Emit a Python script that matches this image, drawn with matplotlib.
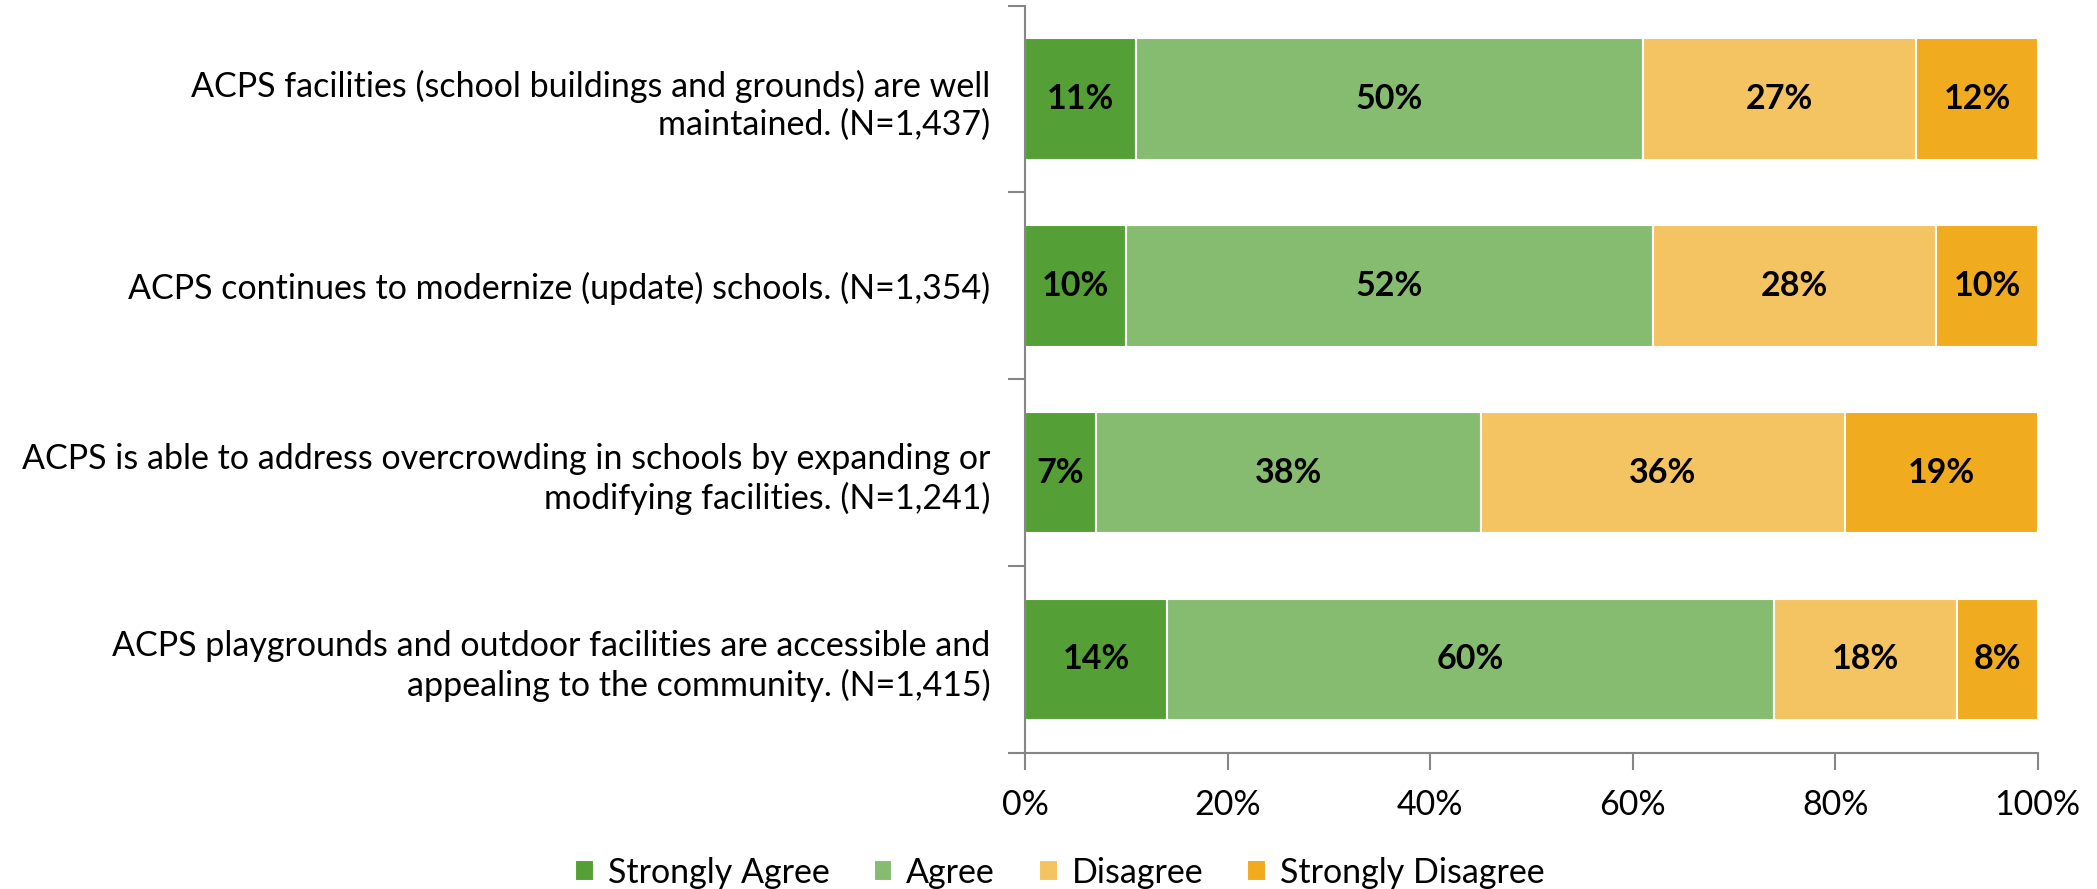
import matplotlib.pyplot as plt
import numpy as np

plt.rcParams['font.family'] = ['Lato', 'DejaVu Sans']

questions = [
    "ACPS facilities (school buildings and grounds) are well\nmaintained. (N=1,437)",
    "ACPS continues to modernize (update) schools. (N=1,354)",
    "ACPS is able to address overcrowding in schools by expanding or\nmodifying facilities. (N=1,241)",
    "ACPS playgrounds and outdoor facilities are accessible and\nappealing to the community. (N=1,415)",
]
strongly_agree = [11, 10, 7, 14]
agree = [50, 52, 38, 60]
disagree = [27, 28, 36, 18]
strongly_disagree = [12, 10, 19, 8]

series = ["Strongly Agree", "Agree", "Disagree", "Strongly Disagree"]
colors = ["#559F37", "#86BC70", "#F5C462", "#F0AB1E"]
xticks = [0, 20, 40, 60, 80, 100]

fs = 24.5

fig = plt.figure(figsize=(20.97, 8.89), dpi=100)
ax = fig.add_axes([0.4888, 0.1533, 0.4829, 0.8403])

y = np.arange(len(questions))
left = np.zeros(len(questions))
for name, vals, col in zip(series, [strongly_agree, agree, disagree, strongly_disagree], colors):
    vals = np.array(vals, dtype=float)
    bars = ax.barh(y, vals, left=left, height=0.65, color=col, edgecolor='white',
                   linewidth=1.5, label=name)
    for b, v in zip(bars, vals):
        ax.text(b.get_x() + b.get_width() / 2, b.get_y() + b.get_height() / 2,
                f"{int(v)}%", ha='center', va='center', fontsize=fs, fontweight='bold')
    left += vals

ax.set_ylim(len(questions) - 0.5, -0.5)
ax.set_xlim(0, 100)
ax.set_yticks(y)
ax.set_yticklabels(questions, fontsize=fs, ha='right', linespacing=1.25)
ax.tick_params(axis='y', length=0, pad=25)
ax.set_yticks(np.arange(-0.5, len(questions)), minor=True)
ax.tick_params(axis='y', which='minor', length=12, width=1.5, color='#868686')
ax.set_xticks(xticks)
ax.set_xticklabels([f"{t}%" for t in xticks], fontsize=fs)
ax.tick_params(axis='x', length=12, width=1.5, color='#868686', pad=14)

for s in ['top', 'right']:
    ax.spines[s].set_visible(False)
for s in ['left', 'bottom']:
    ax.spines[s].set_color('#868686')
    ax.spines[s].set_linewidth(1.5)

fig.legend(loc='lower center', bbox_to_anchor=(0.5054, -0.034), ncol=4, frameon=False,
           fontsize=fs, handlelength=0.55, handleheight=0.55, handletextpad=0.4,
           columnspacing=1.3)

fig.savefig('out.png', dpi=100)
